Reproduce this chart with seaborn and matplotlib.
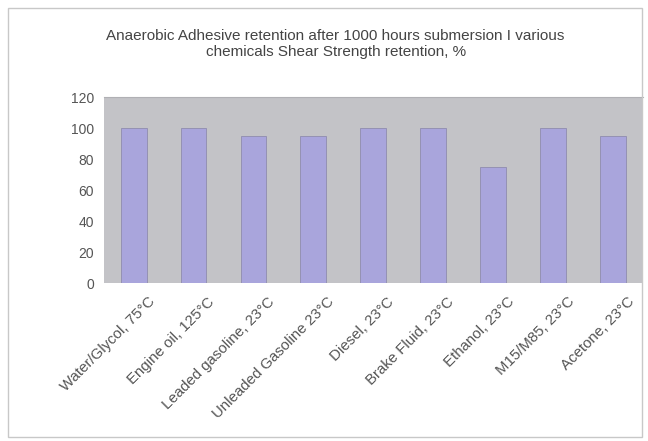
import seaborn as sns
import matplotlib.pyplot as plt
import matplotlib.transforms as mtransforms
import pandas as pd

# retention values, %
chemicals = ['Water/Glycol, 75°C', 'Engine oil, 125°C', 'Leaded gasoline, 23°C',
             'Unleaded Gasoline 23°C', 'Diesel, 23°C', 'Brake Fluid, 23°C',
             'Ethanol, 23°C', 'M15/M85, 23°C', 'Acetone, 23°C']
retention = [100, 100, 95, 95, 100, 100, 75, 100, 95]
y_ticks = [0, 20, 40, 60, 80, 100, 120]

df = pd.DataFrame({'chem': chemicals, 'ret': retention})

sns.set_style('white')
plt.rcParams['font.family'] = ['Liberation Sans', 'DejaVu Sans']

fig = plt.figure(figsize=(6.48, 4.41), dpi=100)
ax = fig.add_axes([0.160, 0.358, 0.832, 0.422])
ax.set_facecolor('#c3c3c7')

sns.barplot(data=df, x='chem', y='ret', color='#a9a5dc', width=0.43,
            edgecolor='#8f8cae', linewidth=0.6, saturation=1, ax=ax)

ax.set_ylim(0, 120)
ax.set_yticks(y_ticks)
ax.set_xlim(-0.5, len(chemicals) - 0.5)
ax.set_xlabel('')
ax.set_ylabel('')
ax.tick_params(axis='y', labelsize=10, colors='#555555', length=0, pad=7)
ax.tick_params(axis='x', labelsize=10.8, colors='#555555', length=0, pad=4)
shift = mtransforms.ScaledTranslation(14 / 100, -6 / 100, fig.dpi_scale_trans)
for lbl in ax.get_xticklabels():
    lbl.set_rotation(45)
    lbl.set_ha('right')
    lbl.set_rotation_mode('anchor')
    lbl.set_transform(lbl.get_transform() + shift)
for s in ax.spines.values():
    s.set_visible(False)
ax.spines['top'].set_visible(True)
ax.spines['top'].set_color('#b0b0b4')

fig.text(0.518, 0.9, 'Anaerobic Adhesive retention after 1000 hours submersion I various\n'
         'chemicals Shear Strength retention, %', ha='center', va='center',
         fontsize=11, color='#444444', linespacing=1.15)

# outer chart border
fig.patches.append(plt.Rectangle((0.012, 0.01), 0.978, 0.972, transform=fig.transFigure,
                                 fill=False, edgecolor='#c8c8c8', linewidth=1))

fig.savefig('out.png', dpi=100)
